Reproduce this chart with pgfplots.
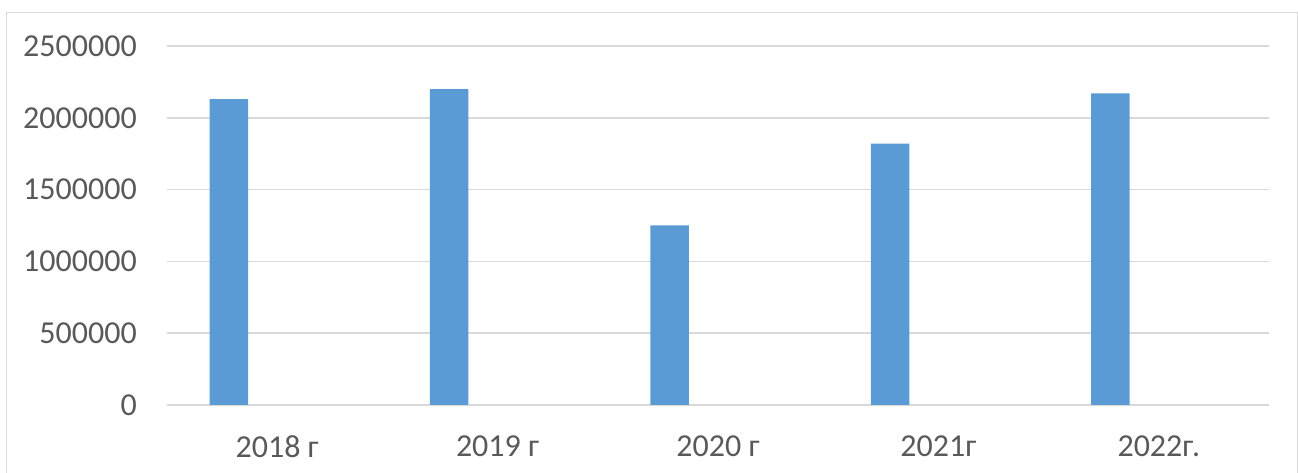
\documentclass[border=0pt]{standalone}
\usepackage{pgfplots}
\pgfplotsset{compat=1.18}
\usepackage{fontspec}
\setmainfont{Carlito}
\definecolor{barblue}{HTML}{5B9BD5}
\definecolor{gridgray}{HTML}{D9D9D9}
\definecolor{txt}{HTML}{595959}
\begin{document}
\begin{tikzpicture}
\path[use as bounding box] (-125.25pt,-51pt) rectangle (848.25pt,303.75pt);
\begin{axis}[
 at={(0,0)}, anchor=south west,
 scale only axis, width=826.5pt, height=269.25pt,
 xmin=-0.5, xmax=4.5, ymin=0, ymax=2500000,
 axis line style={draw=none},
 major tick length=0pt,
 xtick={0,1,2,3,4},
 xticklabels={2018 г,2019 г,2020 г,2021г,2022г.},
 ytick={0,500000,1000000,1500000,2000000,2500000},
 scaled y ticks=false,
 yticklabel style={/pgf/number format/fixed, /pgf/number format/1000 sep={}, /pgf/number format/assume math mode=true},
 ymajorgrids, grid style={gridgray, line width=1.1pt},
 tick label style={font=\fontsize{24}{28}\selectfont, text=txt, inner sep=0pt},
 yticklabel style={anchor=east, xshift=-22.5pt},
 xticklabel style={anchor=north, yshift=-22.5pt},
 clip=false,
]
\addplot[ybar, bar width=0.1747, bar shift=-0.2196, fill=barblue, draw=none] coordinates {(0,2130000) (1,2200000) (2,1250000) (3,1820000) (4,2170000)};
\end{axis}
\draw[gridgray, line width=0.75pt] (-120pt,-80pt) -- (-120pt,294pt) -- (847.5pt,294pt) -- (847.5pt,-80pt);
\end{tikzpicture}
\end{document}
